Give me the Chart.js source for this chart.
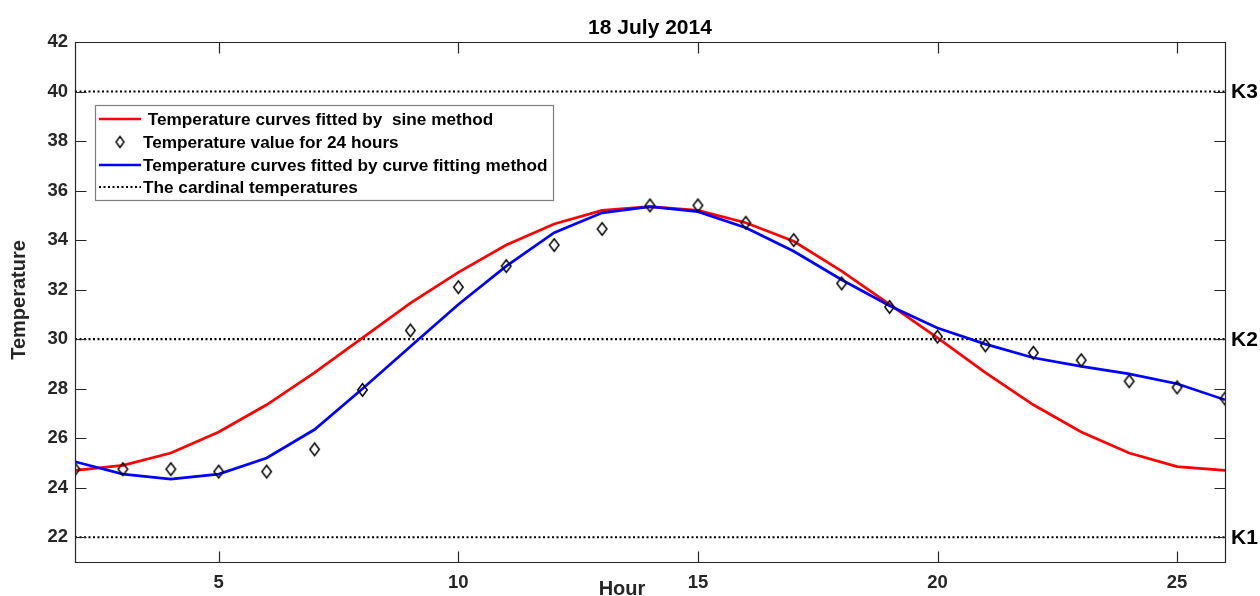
<!DOCTYPE html>
<html>
<head>
<meta charset="utf-8">
<title>18 July 2014</title>
<script src="https://cdn.jsdelivr.net/npm/chart.js@4.4.1/dist/chart.umd.min.js"></script>
<style>
html, body { margin: 0; padding: 0; background: #fff; }
#wrap { width: 1260px; height: 596px; position: relative; }
</style>
</head>
<body>
<div id="wrap"><canvas id="chart"></canvas></div>
<script>
// Hourly temperatures for 18 July 2014 and two fitted curves
const hours    = [2, 3, 4, 5, 6, 7, 8, 9, 10, 11, 12, 13, 14, 15, 16, 17, 18, 19, 20, 21, 22, 23, 24, 25, 26];
const observed = [24.75, 24.75, 24.75, 24.65, 24.65, 25.55, 27.95, 30.35, 32.1, 32.95, 33.8, 34.45, 35.4,
                  35.4, 34.7, 34.0, 32.25, 31.3, 30.1, 29.75, 29.45, 29.15, 28.3, 28.05, 27.6];
const sineFit  = [24.7, 24.9, 25.4, 26.25, 27.35, 28.65, 30.05, 31.45, 32.7, 33.8, 34.65, 35.2, 35.35,
                  35.2, 34.7, 33.95, 32.75, 31.4, 30.05, 28.65, 27.35, 26.25, 25.4, 24.85, 24.7];
const curveFit = [25.05, 24.55, 24.35, 24.55, 25.2, 26.35, 28.0, 29.7, 31.4, 32.95, 34.3, 35.1, 35.35,
                  35.15, 34.5, 33.55, 32.4, 31.35, 30.45, 29.8, 29.25, 28.9, 28.6, 28.2, 27.55];

// Cardinal temperatures
const cardinalTemps = [22, 30, 40];
const cardinalNames = ['K1', 'K2', 'K3'];

// Axis ticks
const xTicks = [5, 10, 15, 20, 25];
const yTicks = [22, 24, 26, 28, 30, 32, 34, 36, 38, 40, 42];

const FONT = "'Liberation Sans', Arial, Helvetica, sans-serif";
const AXIS_INK = '#262626';

// Hollow diamond marker, taller than wide
function diamondMarker(w, h, lw) {
  const c = document.createElement('canvas');
  c.width = Math.ceil(w + 2 * lw + 2);
  c.height = Math.ceil(h + 2 * lw + 2);
  const g = c.getContext('2d');
  const cx = c.width / 2, cy = c.height / 2;
  g.beginPath();
  g.moveTo(cx, cy - h / 2);
  g.lineTo(cx + w / 2, cy);
  g.lineTo(cx, cy + h / 2);
  g.lineTo(cx - w / 2, cy);
  g.closePath();
  g.lineWidth = lw;
  g.strokeStyle = '#000';
  g.stroke();
  return c;
}
const diamond = diamondMarker(9.5, 12.5, 1.5);
const legendDiamond = diamondMarker(8, 11, 1.4);

const toXY = (ys) => hours.map((h, i) => ({ x: h, y: ys[i] }));

const datasets = [
  {
    label: ' Temperature curves fitted by  sine method',
    data: toXY(sineFit),
    borderColor: '#ff0000',
    borderWidth: 2.7,
    pointRadius: 0,
    tension: 0,
    order: 3
  },
  {
    label: 'Temperature value for 24 hours',
    data: toXY(observed),
    showLine: false,
    pointStyle: diamond,
    pointRadius: 6,
    order: 1
  },
  {
    label: 'Temperature curves fitted by curve fitting method',
    data: toXY(curveFit),
    borderColor: '#0000ff',
    borderWidth: 2.7,
    pointRadius: 0,
    tension: 0,
    order: 2
  }
];
cardinalTemps.forEach((t, i) => {
  datasets.push({
    label: i === 0 ? 'The cardinal temperatures' : '',
    data: [{ x: hours[0], y: t }, { x: hours[hours.length - 1], y: t }],
    borderColor: '#000',
    borderWidth: 2.2,
    borderDash: [2, 2.5],
    pointRadius: 0,
    order: 4
  });
});

// Frame, inward ticks, titles, legend and K labels
const decorations = {
  id: 'decorations',
  afterDatasetsDraw(chart) {
    const { ctx, chartArea: a, scales: { x, y } } = chart;
    ctx.save();
    ctx.strokeStyle = AXIS_INK;
    ctx.lineWidth = 1.2;
    ctx.beginPath();
    const L = Math.round(a.left) + 0.5, R = Math.round(a.right) + 0.5;
    const T = Math.round(a.top) + 0.5, B = Math.round(a.bottom) + 0.5;
    ctx.rect(L, T, R - L, B - T);
    const tl = 11;
    xTicks.forEach(v => {
      const px = Math.round(x.getPixelForValue(v)) + 0.5;
      ctx.moveTo(px, B); ctx.lineTo(px, B - tl);
      ctx.moveTo(px, T); ctx.lineTo(px, T + tl);
    });
    yTicks.forEach(v => {
      const py = Math.round(y.getPixelForValue(v)) + 0.5;
      ctx.moveTo(L, py); ctx.lineTo(L + tl, py);
      ctx.moveTo(R, py); ctx.lineTo(R - tl, py);
    });
    ctx.stroke();
    ctx.restore();
  },
  afterDraw(chart) {
    const { ctx, chartArea: a, scales: { x, y } } = chart;
    ctx.save();

    // Title
    ctx.fillStyle = '#000';
    ctx.font = `bold 21px ${FONT}`;
    ctx.textAlign = 'center';
    ctx.textBaseline = 'alphabetic';
    ctx.fillText('18 July 2014', (a.left + a.right) / 2, 33.5);

    // Axis titles
    ctx.font = `bold 20px ${FONT}`;
    ctx.fillStyle = AXIS_INK;
    ctx.fillText('Hour', 622, 594.5);
    ctx.save();
    ctx.translate(24.5, (a.top + a.bottom) / 2 - 2);
    ctx.rotate(-Math.PI / 2);
    ctx.fillText('Temperature', 0, 0);
    ctx.restore();

    // Cardinal temperature labels
    ctx.fillStyle = '#000';
    ctx.font = `bold 21px ${FONT}`;
    ctx.textAlign = 'left';
    ctx.textBaseline = 'middle';
    cardinalTemps.forEach((t, i) => {
      ctx.fillText(cardinalNames[i], a.right + 6, y.getPixelForValue(t) + 1);
    });

    // Legend
    const box = { x: 95.5, y: 105.5, w: 458, h: 95 };
    ctx.fillStyle = '#fff';
    ctx.fillRect(box.x, box.y, box.w, box.h);
    ctx.strokeStyle = '#7f7f7f';
    ctx.lineWidth = 1.2;
    ctx.strokeRect(box.x, box.y, box.w, box.h);

    const rows = [119, 142, 165, 187];
    const entries = chart.data.datasets.filter(d => d.label);
    ctx.font = `bold 17.2px ${FONT}`;
    ctx.textBaseline = 'middle';
    ctx.textAlign = 'left';
    entries.forEach((d, i) => {
      const ry = rows[i];
      if (d.showLine === false) {
        ctx.drawImage(legendDiamond, 120 - legendDiamond.width / 2, ry - legendDiamond.height / 2);
      } else {
        ctx.save();
        ctx.strokeStyle = d.borderColor;
        ctx.lineWidth = d.borderWidth;
        ctx.setLineDash(d.borderDash || []);
        ctx.beginPath();
        ctx.moveTo(99, ry); ctx.lineTo(141, ry);
        ctx.stroke();
        ctx.restore();
      }
      ctx.fillStyle = '#000';
      ctx.fillText(d.label, 143, ry + 1);
    });

    ctx.restore();
  }
};

new Chart(document.getElementById('chart'), {
  type: 'line',
  data: { datasets },
  options: {
    responsive: true,
    maintainAspectRatio: false,
    animation: false,
    devicePixelRatio: 1,
    layout: { padding: { left: 0, right: 35, top: 42, bottom: 0 } },
    plugins: {
      legend: { display: false },
      title: { display: false },
      tooltip: { enabled: false }
    },
    scales: {
      x: {
        type: 'linear',
        min: 2,
        max: 26,
        grid: { display: false, drawTicks: false },
        border: { display: false },
        afterBuildTicks: s => { s.ticks = xTicks.map(v => ({ value: v })); },
        afterFit: s => { s.height = 34; },
        ticks: {
          autoSkip: false,
          maxRotation: 0,
          padding: 10,
          color: AXIS_INK,
          font: { family: FONT, size: 18.5, weight: 'bold' },
          callback: v => String(v)
        }
      },
      y: {
        type: 'linear',
        min: 21,
        max: 42,
        grid: { display: false, drawTicks: false },
        border: { display: false },
        afterBuildTicks: s => { s.ticks = yTicks.map(v => ({ value: v })); },
        afterFit: s => { s.width = 75; },
        ticks: {
          autoSkip: false,
          padding: 7,
          color: AXIS_INK,
          font: { family: FONT, size: 18.5, weight: 'bold' },
          callback: v => String(v)
        }
      }
    }
  },
  plugins: [decorations]
});
</script>
</body>
</html>
